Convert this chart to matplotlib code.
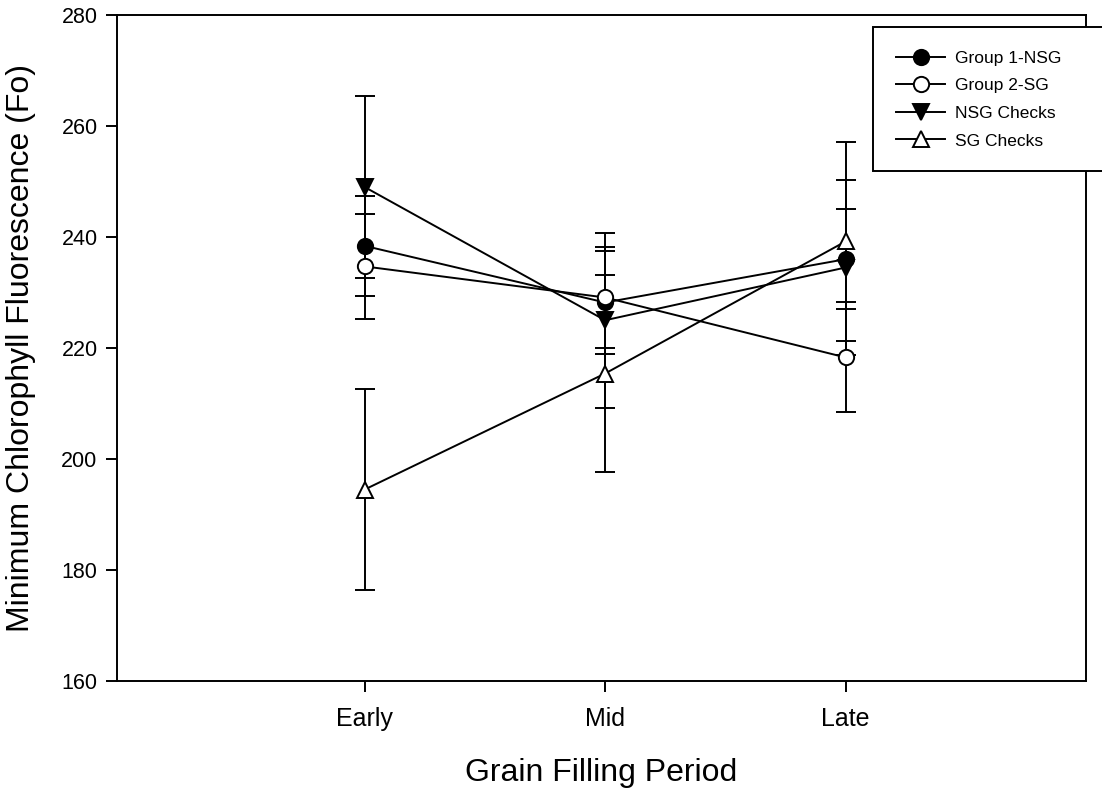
import numpy as np
import matplotlib.pyplot as plt
from matplotlib.patches import Rectangle

plt.rcParams['font.family'] = ['Liberation Sans', 'DejaVu Sans']

periods = ['Early', 'Mid', 'Late']
x = np.array([1, 2, 3])

group1_nsg = [238.4, 228.2, 236.0]
group1_err = [9.0, 9.3, 9.0]
group2_sg = [234.7, 229.1, 218.3]
group2_err = [9.5, 9.1, 9.9]
nsg_checks = [249.0, 225.0, 234.5]
nsg_err = [16.4, 15.8, 15.7]
sg_checks = [194.5, 215.4, 239.2]
sg_err = [18.1, 17.8, 17.9]

series = [
    ('Group 1-NSG', group1_nsg, group1_err, 'o', 'black'),
    ('Group 2-SG', group2_sg, group2_err, 'o', 'white'),
    ('NSG Checks', nsg_checks, nsg_err, 'v', 'black'),
    ('SG Checks', sg_checks, sg_err, '^', 'white'),
]

W, H = 1102, 789
fig = plt.figure(figsize=(W / 100, H / 100), dpi=100)
ax = fig.add_axes([117 / W, 1 - 681 / H, (1086 - 117) / W, (681 - 15) / H])

for label, vals, errs, mk, fc in series:
    ax.errorbar(x, vals, yerr=errs, color='black', lw=1.4, elinewidth=1.4,
                capsize=7, capthick=1.4, marker=mk, markersize=11,
                markerfacecolor=fc, markeredgecolor='black', markeredgewidth=1.4,
                label=label)

ax.set_xlim(-0.03, 4.0)
ax.set_ylim(160, 280)
ax.set_yticks(np.arange(160, 281, 20))
ax.set_xticks(x)
ax.set_xticklabels(periods)
ax.tick_params(axis='both', direction='out', length=8, width=1.4)
ax.tick_params(axis='y', labelsize=15.5, pad=6)
ax.tick_params(axis='x', labelsize=18, pad=11)
for s in ax.spines.values():
    s.set_linewidth(1.4)

ax.set_ylabel('Minimum Chlorophyll Fluorescence (Fo)', fontsize=23, labelpad=18)
ax.set_xlabel('Grain Filling Period', fontsize=23, labelpad=19)

# legend box runs off the right edge of the figure, like the original
box = Rectangle((873 / W, 1 - 171 / H), 250 / W, 144 / H, transform=fig.transFigure,
                facecolor='white', edgecolor='black', lw=1.4, zorder=2)
fig.patches.append(box)

handles, labels = ax.get_legend_handles_labels()
handles = [h[0] for h in handles]
leg = fig.legend(handles, labels, loc='upper left',
                 bbox_to_anchor=(873 / W, 1 - 27 / H),
                 fontsize=12.5, frameon=False,
                 borderpad=1.35, labelspacing=0.72, handlelength=2.8, handletextpad=0.55,
                 borderaxespad=0)
leg.set_zorder(5)

fig.savefig('out.png', dpi=100)
